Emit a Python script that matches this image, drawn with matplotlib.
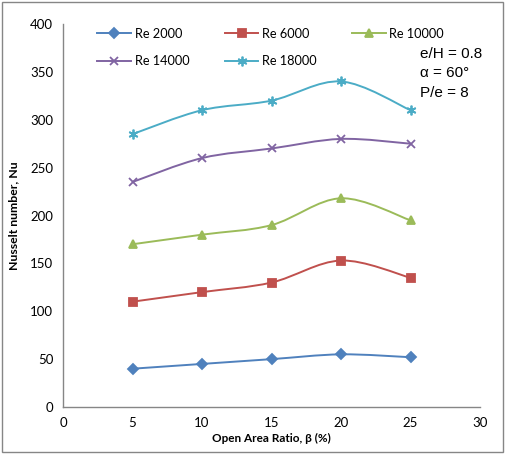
import numpy as np
import matplotlib
matplotlib.use("Agg")
import matplotlib.pyplot as plt
from matplotlib.path import Path
from matplotlib.patches import PathPatch, Rectangle
from matplotlib.lines import Line2D

plt.rcParams["font.family"] = ["Lato", "DejaVu Sans"]

beta = [5, 10, 15, 20, 25]
re_labels = ["Re 2000", "Re 6000", "Re 10000", "Re 14000", "Re 18000"]
nu_re2000 = [40, 45, 50, 55, 52]
nu_re6000 = [110, 120, 130, 153, 135]
nu_re10000 = [170, 180, 190, 218, 195]
nu_re14000 = [235, 260, 270, 280, 275]
nu_re18000 = [285, 310, 320, 340, 310]

series = [nu_re2000, nu_re6000, nu_re10000, nu_re14000, nu_re18000]
colors = ["#4F81BD", "#C0504D", "#9BBB59", "#8064A2", "#4BACC6"]
markers = ["D", "s", "^", "x", (6, 2, 0)]
msizes = [5, 6, 6, 6, 7]


def smooth_path(x, y):
    # Excel-style smoothed line: cubic Bezier through points (Catmull-Rom)
    p = np.column_stack([x, y]).astype(float)
    n = len(p)
    verts = [p[0]]
    codes = [Path.MOVETO]
    for i in range(n - 1):
        p0 = p[i - 1] if i > 0 else p[i]
        p3 = p[i + 2] if i + 2 < n else p[i + 1]
        c1 = p[i] + (p[i + 1] - p0) / 6
        c2 = p[i + 1] - (p3 - p[i]) / 6
        verts += [c1, c2, p[i + 1]]
        codes += [Path.CURVE4] * 3
    return Path(verts, codes)


fig = plt.figure(figsize=(5.05, 4.54), dpi=100)
ax = fig.add_axes([0.1248, 0.1035, 0.8257, 0.8436])

handles = []
for vals, c, m, ms, lab in zip(series, colors, markers, msizes, re_labels):
    ax.add_patch(PathPatch(smooth_path(beta, vals), facecolor="none",
                           edgecolor=c, lw=1.4, zorder=2))
    ax.plot(beta, vals, linestyle="none", marker=m, ms=ms, color=c,
            mec=c, mew=1.3, zorder=3)
    handles.append(Line2D([], [], color=c, lw=1.4, marker=m, ms=ms,
                          mec=c, mew=1.3, label=lab))

ax.set_xlim(0, 30)
ax.set_ylim(0, 400)
ax.set_xticks(range(0, 31, 5))
ax.set_yticks(range(0, 401, 50))
ax.tick_params(length=0, labelsize=9.5, pad=7)
for s in ["top", "right"]:
    ax.spines[s].set_visible(False)
for s in ["left", "bottom"]:
    ax.spines[s].set_color("#868686")
    ax.spines[s].set_linewidth(1.0)

ax.set_xlabel("Open Area Ratio, β (%)", fontsize=8.5, fontweight="bold",
              labelpad=3)
ax.set_ylabel("Nusselt number, Nu", fontsize=8.8, fontweight="bold",
              labelpad=8)

# row-wise order like Excel: matplotlib fills legend columns first
order = [0, 3, 1, 4, 2]
ax.legend(handles=[handles[i] for i in order], ncol=3, loc="upper left",
          bbox_to_anchor=(0.055, 1.02), frameon=False, fontsize=9.2,
          handlelength=2.6, handletextpad=0.3, columnspacing=2.8,
          labelspacing=1.2)

ax.text(0.855, 0.94, "e/H = 0.8\nα = 60°\nP/e = 8", transform=ax.transAxes,
        fontsize=11, family=["Liberation Sans", "DejaVu Sans"],
        va="top", ha="left", linespacing=1.5)

fig.patches.append(Rectangle((0.004, 0.004), 0.992, 0.992,
                             transform=fig.transFigure, fill=False,
                             edgecolor="#868686", lw=1.0))

fig.savefig("out.png", dpi=100)
